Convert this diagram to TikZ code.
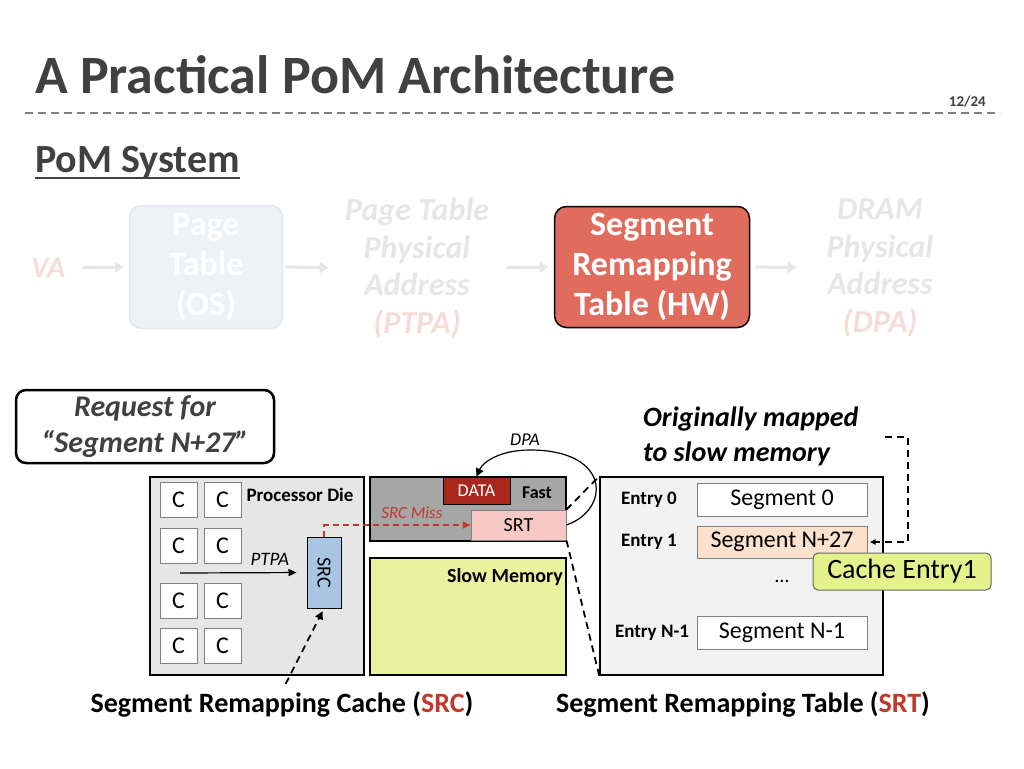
\documentclass[tikz,border=0pt]{standalone}
\usepackage{fontspec}
\setmainfont{Carlito}
\usetikzlibrary{arrows.meta}
\definecolor{titlegray}{HTML}{404040}
\definecolor{fadegray}{HTML}{E6E6E6}
\definecolor{fadered}{HTML}{F6DCD8}
\definecolor{fadebox}{HTML}{EEF2F5}
\definecolor{fadeline}{HTML}{E2E7EB}
\definecolor{hwred}{HTML}{E06C5E}
\definecolor{diegray}{HTML}{E6E6E6}
\definecolor{fastgray}{HTML}{A6A6A6}
\definecolor{datared}{HTML}{A8281E}
\definecolor{srtpink}{HTML}{F6C9C4}
\definecolor{slowgreen}{HTML}{E9F29C}
\definecolor{srcblue}{HTML}{A8C5E4}
\definecolor{tblgray}{HTML}{F2F2F2}
\definecolor{peach}{HTML}{FCE2CC}
\definecolor{callgreen}{HTML}{E4F28C}
\definecolor{labelred}{HTML}{C0392B}
\newcommand{\fsz}[2]{\fontsize{#1}{#2}\selectfont}

\begin{document}
\begin{tikzpicture}[x=1pt,y=-1pt,
    box/.style={draw,line width=1.5pt,inner sep=0pt},
    cbox/.style={draw=gray,fill=white,line width=1pt,minimum width=37pt,minimum height=35pt,inner sep=0pt,font=\fsz{24}{24}},
    segbox/.style={draw=gray,line width=1pt,minimum width=170pt,inner sep=0pt,font=\fsz{24}{24}},
    entry/.style={inner sep=0pt,font=\bfseries\fsz{19}{19}},
    fadearrow/.style={draw=fadegray,line width=3pt,-{Triangle[length=9pt,width=11pt]}},
    dashline/.style={line width=1.8pt,dash pattern=on 7pt off 5pt}]
  \useasboundingbox (0,0) rectangle (1024,768);

  % title
  \node[anchor=base west,inner sep=0pt,text=titlegray,font=\bfseries\fsz{54}{54}] (title) at (35,93) {A Practical PoM Architecture};
  \node[anchor=base east,inner sep=0pt,text=titlegray,font=\bfseries\fsz{15}{15}] (page) at (986,106) {12/24};
  \coordinate (rulel) at (25,113);
  \coordinate (ruler) at (1000,113);
  \draw[gray,line width=1.5pt,dash pattern=on 8pt off 5pt] (rulel) -- (ruler);
  \node[anchor=base west,inner sep=0pt,text=titlegray,font=\bfseries\fsz{40}{40}] (pom) at (35,172) {PoM System};
  \draw[titlegray,line width=2pt] ([yshift=-6pt]pom.base west) -- ([yshift=-6pt]pom.base east);

  % faded translation flow
  \node[inner sep=0pt,text=fadered,font=\bfseries\itshape\fsz{30}{30}] (va) at (48,268) {VA};
  \node[draw=fadeline,fill=fadebox,line width=1.5pt,rounded corners=12pt,minimum width=153pt,minimum height=123pt,
        align=center,text=white,font=\bfseries\fsz{34}{40}] (pt) at (206,267) {Page\\Table\\(OS)};
  \node[inner sep=0pt,align=center,text=fadegray,font=\bfseries\itshape\fsz{32}{37.5}] (ptpa) at (417,268)
       {Page Table\\Physical\\Address\\\textcolor{fadered}{(PTPA)}};
  \node[box,fill=hwred,rounded corners=12pt,minimum width=195pt,minimum height=121pt,
        align=center,text=white,font=\bfseries\fsz{34}{40}] (hw) at (652,267) {Segment\\Remapping\\Table (HW)};
  \node[inner sep=0pt,align=center,text=fadegray,font=\bfseries\itshape\fsz{32}{37.5}] (dpa) at (880,268)
       {DRAM\\Physical\\Address\\\textcolor{fadered}{(DPA)}};
  \draw[fadearrow,shorten <=17pt,shorten >=5pt] (va.east) -- (pt.west);
  \draw[fadearrow,shorten <=2pt,shorten >=16pt] (pt.east) -- (ptpa.west);
  \draw[fadearrow,shorten <=17pt,shorten >=5pt] (ptpa.east) -- (hw.west);
  \draw[fadearrow,shorten <=5pt,shorten >=30pt] (hw.east) -- (dpa.west);

  % request
  \node[box,line width=2.5pt,fill=white,rounded corners=10pt,minimum width=258pt,minimum height=73pt,
        align=center,text=titlegray,font=\bfseries\itshape\fsz{30}{36}] (req) at (145,426.5) {Request for\\“Segment N+27”};
  \node[inner sep=0pt,align=left,anchor=west,text=black,font=\bfseries\itshape\fsz{28}{35}] (orig) at (643,436)
       {Originally mapped\\to slow memory};

  % processor die
  \node[box,fill=diegray,minimum width=214pt,minimum height=198pt] (die) at (257,576) {};
  \node[inner sep=0pt,font=\bfseries\fsz{19}{19}] (dielbl) at (300,495) {Processor Die};
  \foreach \r/\y in {1/500,2/545.5,3/600.5,4/646}
    \foreach \c/\x in {1/178.5,2/222.5}
      \node[cbox] (c\r\c) at (\x,\y) {C};
  \node[draw,fill=srcblue,line width=1pt,minimum width=34pt,minimum height=71pt,inner sep=0pt] (src) at (324,572.5) {};
  \node[rotate=-90,inner sep=0pt,font=\fsz{20}{20}] (srclbl) at (src.center) {SRC};
  \coordinate (ptpastart) at (180,573);
  \draw[line width=1.2pt,-{Triangle[length=8pt,width=7pt]},shorten >=10pt] (ptpastart) -- (src.west)
       node[pos=0.71,above=3pt,font=\itshape\fsz{19}{19}] {PTPA};

  % memories
  \node[box,fill=fastgray,minimum width=196pt,minimum height=64pt] (fast) at (468,509) {};
  \node[draw,fill=datared,line width=1pt,minimum width=67pt,minimum height=27pt,inner sep=0pt,
        text=white,font=\fsz{18}{18}] (data) at (476.5,490.5) {DATA};
  \node[inner sep=0pt,font=\bfseries\fsz{18}{18}] (fastlbl) at (537,493) {Fast};
  \node[draw=gray,fill=srtpink,line width=1pt,minimum width=95pt,minimum height=30pt,inner sep=0pt,
        font=\fsz{20}{20}] (srt) at (518.5,525) {SRT};
  \node[box,fill=slowgreen,minimum width=196pt,minimum height=117pt] (slow) at (468,616.5) {};
  \node[anchor=north east,inner sep=0pt,font=\bfseries\fsz{20}{20}] (slowlbl) at (563,568) {Slow Memory};
  \draw[labelred,line width=1.5pt,dash pattern=on 6pt off 4pt,-{Triangle[length=8pt,width=7pt]}]
       (src.north) |- (srt.west) node[pos=0.8,above=2pt,font=\itshape\fsz{17}{17}] {SRC Miss};
  \draw[line width=1.2pt,-{Triangle[length=8pt,width=8pt]}] (srt.east)
       .. controls (610,510) and (612,450) .. (530,450) .. controls (500,450) and (483,462) .. (data.north);
  \node[inner sep=0pt,font=\itshape\fsz{18}{18}] (dpalbl) at (525,440) {DPA};

  % segment remapping table
  \node[box,fill=tblgray,minimum width=283pt,minimum height=198pt] (tbl) at (741.5,576) {};
  \draw[dashline] (srt.north east) -- (tbl.north west);
  \draw[dashline] (srt.south east) -- (tbl.south west);
  \node[entry] (e0) at (649,500) {Entry 0};
  \node[entry] (e1) at (649,542) {Entry 1};
  \node[entry] (en) at (652,633) {Entry N-1};
  \node[segbox,fill=white,minimum height=33pt] (seg0) at (782,499.5) {Segment 0};
  \node[segbox,fill=peach,minimum height=32pt] (segk) at (782,542) {Segment N+27};
  \node[segbox,fill=white,minimum height=33pt] (segn) at (782,632.5) {Segment N-1};
  \node[inner sep=0pt,font=\fsz{20}{20}] (dots) at (782,581) {…};
  \node[draw=black!60,fill=callgreen,line width=1pt,rounded corners=5pt,minimum width=178pt,minimum height=37pt,
        inner sep=0pt,font=\fsz{28}{28}] (cache) at (902,571.5) {Cache Entry1};
  \coordinate (origend) at (885,437);
  \draw[dashline,-{Latex[length=6pt,width=6pt]},shorten >=2pt] (origend) -- ++(23,0) |- (segk.east);

  % captions
  \node[inner sep=0pt,font=\bfseries\fsz{28}{28}] (srccap) at (282,704) {Segment Remapping Cache (\textcolor{labelred}{SRC})};
  \node[inner sep=0pt,font=\bfseries\fsz{28}{28}] (srtcap) at (743,704) {Segment Remapping Table (\textcolor{labelred}{SRT})};
  \draw[dashline,-{Triangle[length=8pt,width=8pt]},shorten <=8pt,shorten >=3pt] (srccap.north) -- (src.south);
\end{tikzpicture}
\end{document}
